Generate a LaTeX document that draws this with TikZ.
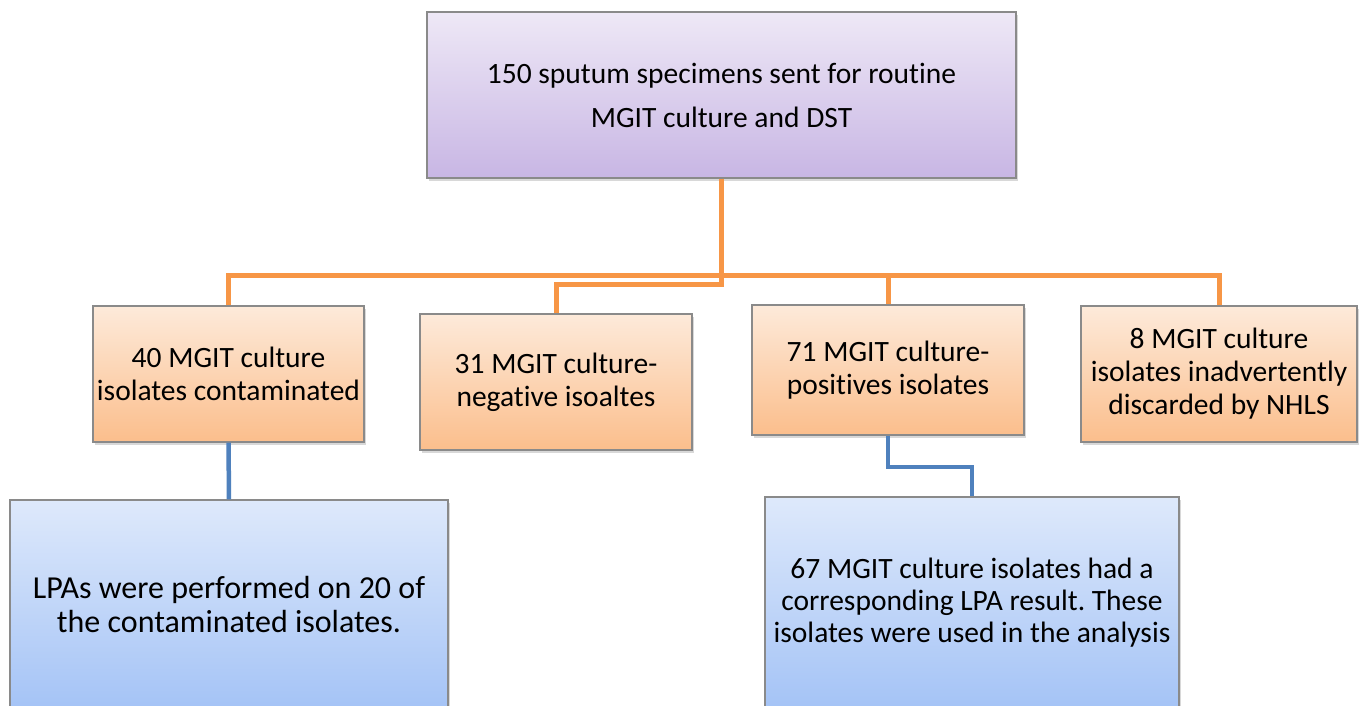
\documentclass[tikz,border=0pt]{standalone}
\usepackage{fontspec}
\setmainfont{Carlito}[Ligatures=NoCommon]
\usetikzlibrary{shadows}
\definecolor{lineor}{HTML}{F79646}
\definecolor{lineblue}{HTML}{4F81BD}
\definecolor{bordergray}{HTML}{8A8A8A}
\tikzset{
  boxbase/.style={rectangle, draw=bordergray, line width=1.2pt, align=center, inner sep=0pt,
    drop shadow={opacity=0.3, shadow xshift=2pt, shadow yshift=-3pt}},
  purplebox/.style={boxbase, top color={rgb,255:red,238;green,232;blue,246}, bottom color={rgb,255:red,200;green,182;blue,228},
    font=\fontsize{29.5}{44}\selectfont},
  orangebox/.style={boxbase, top color={rgb,255:red,253;green,234;blue,218}, bottom color={rgb,255:red,251;green,190;blue,140},
    font=\fontsize{29.5}{33}\selectfont},
  bluebox/.style={boxbase, top color={rgb,255:red,222;green,233;blue,251}, bottom color={rgb,255:red,164;green,195;blue,246}},
  oline/.style={draw=lineor, line width=5pt, line join=miter},
  bline/.style={draw=lineblue, line width=4.5pt, line join=miter},
}
\begin{document}
\frenchspacing
\begin{tikzpicture}[x=1pt,y=-1pt]
\useasboundingbox (0,0) rectangle (1362,706);
\fill[white] (0,0) rectangle (1362,706);
% connectors
\coordinate (j1) at (721.5,275);
\coordinate (j2) at (721.5,284);
\coordinate (k1) at (888,467);
% boxes
\node[purplebox, minimum width=589pt, minimum height=166pt] (top) at (721.5,95) {150 sputum specimens sent for routine\\MGIT culture and DST};
\node[orangebox, minimum width=271pt, minimum height=136pt] (b1) at (228.5,374) {40 MGIT culture\\isolates contaminated};
\node[orangebox, minimum width=272pt, minimum height=136pt] (b2) at (556,382) {31 MGIT culture-\\negative isoaltes};
\node[orangebox, minimum width=272pt, minimum height=130pt] (b3) at (888,370) {71 MGIT culture-\\positives isolates};
\node[orangebox, minimum width=276pt, minimum height=136pt] (b4) at (1219,374) {8 MGIT culture\\isolates inadvertently\\discarded by NHLS};
\node[bluebox, minimum width=438pt, minimum height=210pt, font=\fontsize{32}{34}\selectfont] (b5) at (229,605) {LPAs were performed on 20 of\\the contaminated isolates.};
\node[bluebox, minimum width=414pt, minimum height=212pt, font=\fontsize{29.5}{32}\selectfont] (b6) at (972,603) {67 MGIT culture isolates had a\\corresponding LPA result. These\\isolates were used in the analysis};
% orange lines
\draw[oline] (top.south) -- (j2) -| (b2.north);
\draw[oline] (b1.north) |- (j1) -| (b4.north);
\draw[oline] (b3.north) -- (b3.north |- j1);
% blue lines
\draw[bline] (b1.south) -- (b5.north);
\draw[bline] (b3.south) -- (k1) -| (b6.north);
\end{tikzpicture}
\end{document}
